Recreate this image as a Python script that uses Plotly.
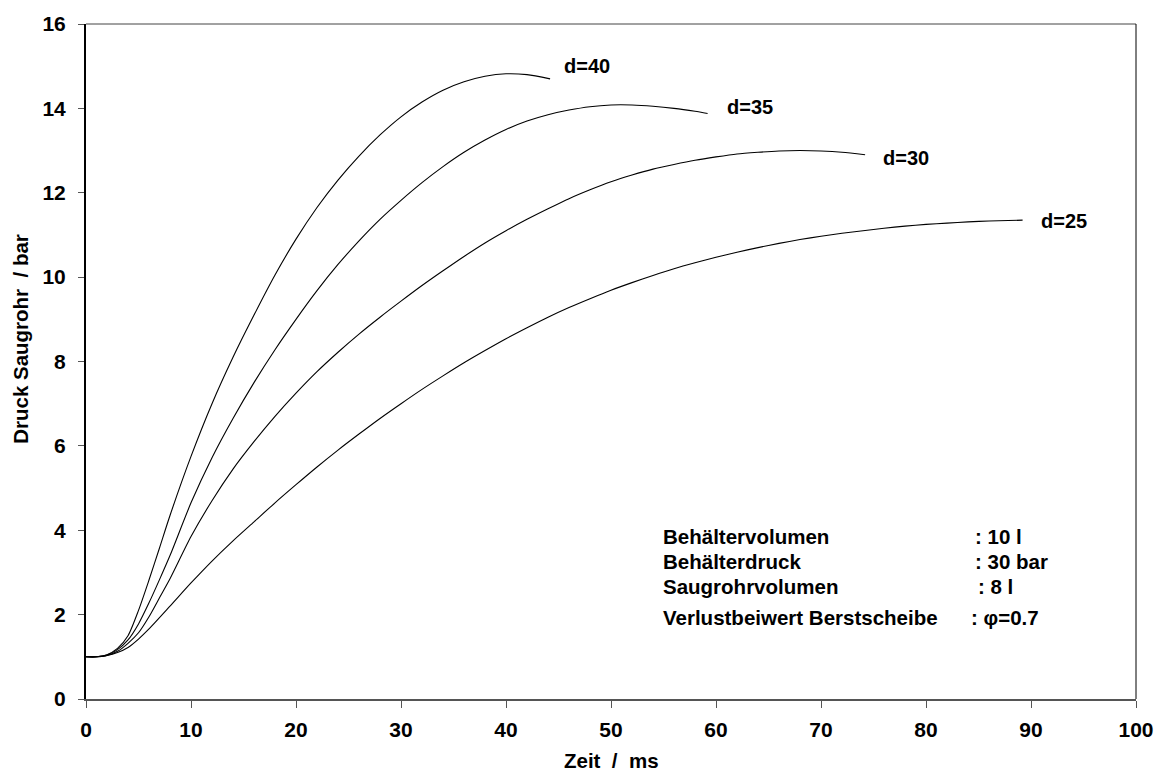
import plotly.graph_objects as go

# ---- data ----
t40 = [0, 1, 2, 3, 4, 5, 6, 7, 8, 10, 12, 14, 16, 18, 20, 22, 24, 26, 28, 30, 32, 34, 36, 38, 40, 42, 44.2]
p40 = [1.0, 1.0, 1.05, 1.2, 1.5, 2.1, 2.82, 3.58, 4.35, 5.75, 7.0, 8.1, 9.1, 10.05, 10.9, 11.65, 12.3, 12.87,
       13.37, 13.8, 14.15, 14.43, 14.63, 14.76, 14.82, 14.8, 14.7]

t35 = [0, 1, 2, 3, 4, 5, 6, 7, 8, 10, 12, 14, 16, 18, 20, 22, 24, 26, 28, 30, 32, 34, 36, 38, 40, 42, 44, 46,
       48, 50, 52, 54, 56, 58, 59.2]
p35 = [1.0, 1.0, 1.04, 1.17, 1.4, 1.78, 2.28, 2.83, 3.4, 4.65, 5.72, 6.65, 7.5, 8.28, 9.0, 9.68, 10.3, 10.86,
       11.37, 11.82, 12.24, 12.62, 12.96, 13.25, 13.5, 13.7, 13.85, 13.96, 14.04, 14.08, 14.08, 14.05, 14.0,
       13.93, 13.88]

t30 = [0, 1, 2, 3, 4, 5, 6, 7, 8, 10, 12, 14, 16, 18, 20, 22, 24, 26, 28, 30, 32, 34, 36, 38, 40, 42, 44, 46,
       48, 50, 52, 54, 56, 58, 60, 62, 64, 66, 68, 70, 72, 74.2]
p30 = [1.0, 1.0, 1.03, 1.13, 1.32, 1.57, 1.95, 2.4, 2.85, 3.85, 4.7, 5.45, 6.1, 6.7, 7.25, 7.76, 8.22, 8.65,
       9.05, 9.43, 9.8, 10.15, 10.49, 10.81, 11.1, 11.37, 11.62, 11.86, 12.07, 12.26, 12.42, 12.56, 12.67,
       12.77, 12.85, 12.92, 12.96, 12.99, 13.0, 12.99, 12.96, 12.9]

t25 = [0, 1, 2, 3, 4, 5, 6, 8, 10, 12, 14, 16, 18, 20, 22, 24, 26, 28, 30, 32, 34, 36, 38, 40, 42, 44, 46, 48,
       50, 52, 54, 56, 58, 60, 62, 64, 66, 68, 70, 72, 74, 76, 78, 80, 82, 84, 86, 89.2]
p25 = [1.0, 1.0, 1.03, 1.1, 1.22, 1.42, 1.66, 2.2, 2.75, 3.27, 3.75, 4.2, 4.65, 5.08, 5.5, 5.9, 6.28, 6.65,
       7.0, 7.34, 7.66, 7.97, 8.26, 8.54, 8.8, 9.05, 9.28, 9.49, 9.69, 9.87, 10.04, 10.2, 10.34, 10.47,
       10.59, 10.7, 10.8, 10.89, 10.97, 11.04, 11.1, 11.16, 11.21, 11.25, 11.28, 11.31, 11.33, 11.35]

curve_labels = ["d=40", "d=35", "d=30", "d=25"]
label_x = [47.7, 63.2, 78.1, 93.1]
label_y = [15.0, 14.03, 12.82, 11.32]

info_names = ["Behältervolumen", "Behälterdruck", "Saugrohrvolumen", "Verlustbeiwert Berstscheibe"]
info_values = [": 10 l", ": 30 bar", ": 8 l", ": φ=0.7"]
info_y = [3.86, 3.26, 2.67, 1.94]
info_name_x = 54.8
info_value_x = [84.5, 84.5, 84.8, 84.1]

x_ticks = [0, 10, 20, 30, 40, 50, 60, 70, 80, 90, 100]
y_ticks = [0, 2, 4, 6, 8, 10, 12, 14, 16]

FONT = "Liberation Sans, Arial, sans-serif"

fig = go.Figure()
for t, p, name in [(t40, p40, "d=40"), (t35, p35, "d=35"), (t30, p30, "d=30"), (t25, p25, "d=25")]:
    fig.add_trace(go.Scatter(x=t, y=p, mode="lines", name=name,
                             line=dict(color="black", width=1.1, shape="spline", smoothing=0.7),
                             showlegend=False, hoverinfo="skip"))

annotations = []
for txt, lx, ly in zip(curve_labels, label_x, label_y):
    annotations.append(dict(x=lx, y=ly, xref="x", yref="y", text="<b>%s</b>" % txt, showarrow=False,
                            font=dict(family=FONT, size=20, color="black"), xanchor="center", yanchor="middle"))
for nm, val, yy, vx in zip(info_names, info_values, info_y, info_value_x):
    annotations.append(dict(x=info_name_x, y=yy, xref="x", yref="y", text="<b>%s</b>" % nm, showarrow=False,
                            font=dict(family=FONT, size=20.5, color="black"), xanchor="left", yanchor="middle"))
    annotations.append(dict(x=vx, y=yy, xref="x", yref="y", text="<b>%s</b>" % val, showarrow=False,
                            font=dict(family=FONT, size=20.5, color="black"), xanchor="left", yanchor="middle"))

# axis titles
annotations.append(dict(x=0.5, y=-0.091, xref="paper", yref="paper", text="<b>Zeit  /  ms</b>",
                        showarrow=False, font=dict(family=FONT, size=20.5, color="black"),
                        xanchor="center", yanchor="middle"))
annotations.append(dict(x=-0.0626, y=0.534, xref="paper", yref="paper", text="<b>Druck Saugrohr  / bar</b>",
                        showarrow=False, textangle=-90, font=dict(family=FONT, size=20.5, color="black"),
                        xanchor="center", yanchor="middle"))

fig.update_layout(
    width=1166, height=775,
    margin=dict(l=86, r=26, t=16, b=76),
    paper_bgcolor="white", plot_bgcolor="white",
    annotations=annotations,
    shapes=[
        dict(type="line", xref="x domain", yref="y domain", x0=0, x1=1, y0=1, y1=1,
             line=dict(color="#444", width=1)),
        dict(type="line", xref="x domain", yref="y domain", x0=1, x1=1, y0=0, y1=1,
             line=dict(color="black", width=1)),
    ],
)
fig.update_xaxes(range=[0, 100], tickvals=x_ticks, ticktext=["<b>%d</b>" % v for v in x_ticks],
                 showgrid=False, zeroline=False, showline=True, linecolor="#555", linewidth=2,
                 ticks="outside", ticklen=7, tickcolor="#555", tickwidth=1,
                 tickfont=dict(family=FONT, size=21, color="black"), ticklabelstandoff=4)
fig.update_yaxes(range=[0, 16], tickvals=y_ticks, ticktext=["<b>%d</b>" % v for v in y_ticks],
                 showgrid=False, zeroline=False, showline=True, linecolor="black", linewidth=2,
                 ticks="outside", ticklen=6, tickcolor="#555", tickwidth=1,
                 tickfont=dict(family=FONT, size=21, color="black"), ticklabelstandoff=8)

fig.write_html("out.html")
